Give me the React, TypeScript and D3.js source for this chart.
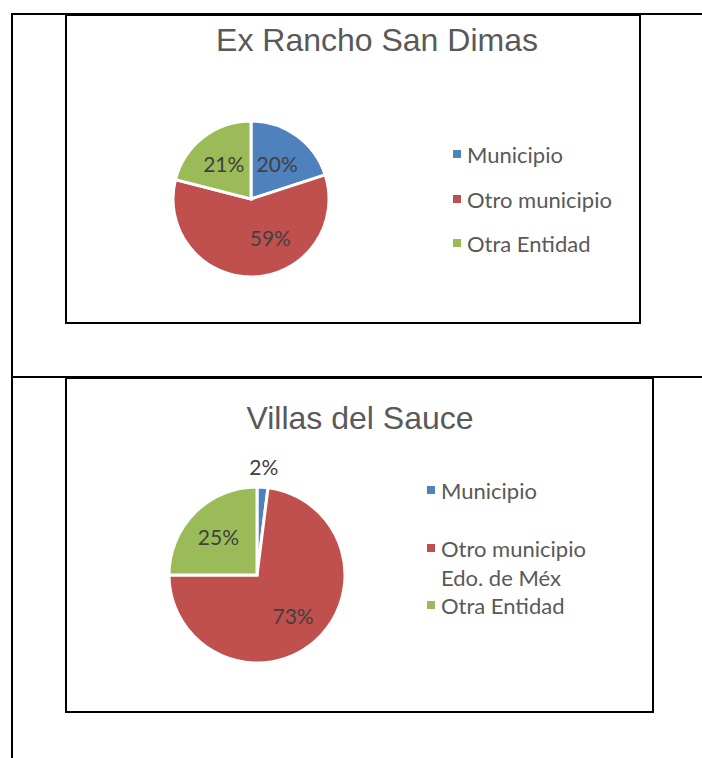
import React from "react";
import * as d3 from "d3";

const categoriesTop = ["Municipio", "Otro municipio", "Otra Entidad"];
const valuesTop = [20, 59, 21];

const categoriesBottom = ["Municipio", "Otro municipio\nEdo. de Méx", "Otra Entidad"];
const valuesBottom = [2, 73, 25];

const COLORS = ["#4F81BD", "#C0504D", "#9BBB59"];

interface PieBoxProps {
  title: string;
  categories: string[];
  values: number[];
  box: { x: number; y: number; w: number; h: number };
  titleX: number;
  titleY: number;
  center: [number, number];
  radius: number;
  // label distance as fraction of radius (outside for tiny slices)
  labelRadius: number[];
  // small angular nudge (degrees) for labels Excel moved off the centroid
  labelShift: number[];
  legendX: number;
  legendY: number[];
}

const PieBox = ({
  title,
  categories,
  values,
  box,
  titleX,
  titleY,
  center,
  radius,
  labelRadius,
  labelShift,
  legendX,
  legendY,
}: PieBoxProps) => {
  const pie = d3.pie<number>().sort(null).value((d) => d);
  const arcs = pie(values);
  const arc = d3.arc<d3.PieArcDatum<number>>().innerRadius(0).outerRadius(radius);
  const total = d3.sum(values);

  return (
    <g>
      <rect
        x={box.x}
        y={box.y}
        width={box.w}
        height={box.h}
        fill="white"
        stroke="#000"
        strokeWidth={2}
      />
      <text
        x={titleX}
        y={titleY}
        textAnchor="middle"
        fontFamily="'Liberation Sans', Arial, sans-serif"
        fontSize={32}
        fill="#595959"
      >
        {title}
      </text>
      <g transform={`translate(${center[0]},${center[1]})`}>
        {arcs.map((a, i) => (
          <path key={i} d={arc(a) ?? ""} fill={COLORS[i]} stroke="#fff" strokeWidth={3} />
        ))}
        {arcs.map((a, i) => {
          const mid = (a.startAngle + a.endAngle) / 2 + (labelShift[i] * Math.PI) / 180;
          const r = radius * labelRadius[i];
          return (
            <text
              key={i}
              x={Math.sin(mid) * r}
              y={-Math.cos(mid) * r}
              textAnchor="middle"
              dominantBaseline="central"
              fontFamily="Lato, 'Noto Sans', sans-serif"
              fontSize={21}
              fill="#404040"
            >
              {`${Math.round((a.data / total) * 100)}%`}
            </text>
          );
        })}
      </g>
      {categories.map((c, i) => (
        <g key={c} transform={`translate(${legendX},${legendY[i]})`}>
          <rect x={0} y={-4} width={8} height={8} fill={COLORS[i]} />
          {c.split("\n").map((line, j) => (
            <text
              key={j}
              x={14}
              y={j * 29}
              dominantBaseline="central"
              fontFamily="Lato, 'Noto Sans', sans-serif"
              fontSize={22}
              fill="#595959"
            >
              {line}
            </text>
          ))}
        </g>
      ))}
    </g>
  );
};

const App = () => {
  return (
    <svg
      width={702}
      height={758}
      style={{ position: "absolute", left: 0, top: 0, background: "#fff" }}
    >
      <rect width={702} height={758} fill="#fff" />
      {/* table borders */}
      <line x1={12} y1={14} x2={702} y2={14} stroke="#000" strokeWidth={2} />
      <line x1={12} y1={13} x2={12} y2={758} stroke="#000" strokeWidth={2} />
      <line x1={12} y1={377} x2={702} y2={377} stroke="#000" strokeWidth={2} />

      <PieBox
        title="Ex Rancho San Dimas"
        categories={categoriesTop}
        values={valuesTop}
        box={{ x: 66, y: 15, w: 574, h: 308 }}
        titleX={377}
        titleY={51}
        center={[251, 199]}
        radius={78}
        labelRadius={[0.57, 0.55, 0.57]}
        labelShift={[0, -25, 0]}
        legendX={453}
        legendY={[154, 199, 243]}
      />
      <PieBox
        title="Villas del Sauce"
        categories={categoriesBottom}
        values={valuesBottom}
        box={{ x: 66, y: 378, w: 587, h: 334 }}
        titleX={360}
        titleY={429}
        center={[257, 575]}
        radius={88}
        labelRadius={[1.24, 0.62, 0.62]}
        labelShift={[0, 0, 0]}
        legendX={427}
        legendY={[490, 548, 605]}
      />
    </svg>
  );
};

export default App;
